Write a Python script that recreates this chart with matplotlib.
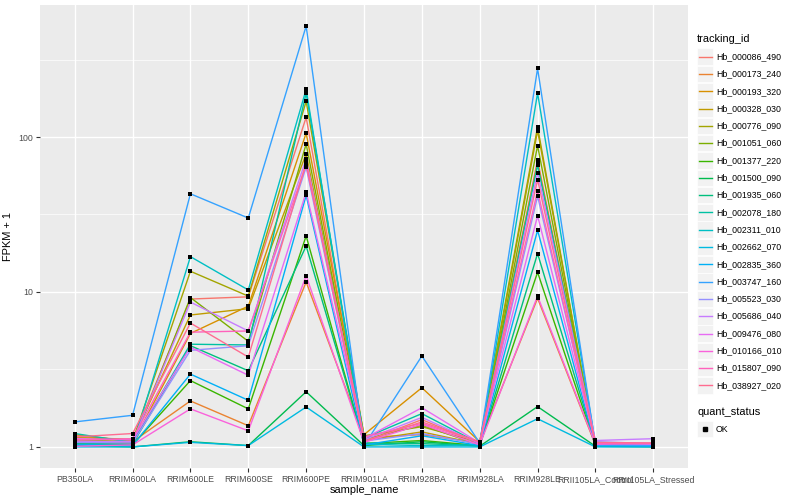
import numpy as np
import matplotlib.pyplot as plt
from matplotlib.patches import Rectangle
from matplotlib.lines import Line2D

plt.rcParams['font.family'] = ['Liberation Sans', 'DejaVu Sans']

samples = ["PB350LA", "RRIM600LA", "RRIM600LE", "RRIM600SE", "RRIM600PE",
           "RRIM901LA", "RRIM928BA", "RRIM928LA", "RRIM928LE",
           "RRII105LA_Control", "RRII105LA_Stressed"]

tracking_ids = ["Hb_000086_490", "Hb_000173_240", "Hb_000193_320", "Hb_000328_030",
                "Hb_000776_090", "Hb_001051_060", "Hb_001377_220", "Hb_001500_090",
                "Hb_001935_060", "Hb_002078_180", "Hb_002311_010", "Hb_002662_070",
                "Hb_002835_360", "Hb_003747_160", "Hb_005523_030", "Hb_005686_040",
                "Hb_009476_080", "Hb_010166_010", "Hb_015807_090", "Hb_038927_020"]

colors = ["#F8766D", "#EA8331", "#D89000", "#C09B00", "#A3A500", "#7CAE00",
          "#39B600", "#00BB4E", "#00BF7D", "#00C1A3", "#00BFC4", "#00BAE0",
          "#00B0F6", "#35A2FF", "#9590FF", "#C77CFF", "#E76BF3", "#FA62DB",
          "#FF62BC", "#FF6C90"]

# FPKM + 1, one row per tracking_id, one column per sample
fpkm = [
    [1.18, 1.10, 9.0, 9.3, 134, 1.08, 1.50, 1.05, 71, 1.04, 1.05],
    [1.20, 1.08, 1.98, 1.37, 11.6, 1.15, 1.20, 1.06, 9.1, 1.03, 1.04],
    [1.12, 1.06, 5.4, 8.1, 106, 1.20, 2.41, 1.08, 68, 1.05, 1.03],
    [1.15, 1.12, 7.1, 7.8, 78, 1.10, 1.25, 1.04, 110, 1.03, 1.02],
    [1.10, 1.09, 13.6, 9.4, 170, 1.18, 1.35, 1.07, 116, 1.02, 1.03],
    [1.08, 1.05, 9.2, 4.8, 90, 1.12, 1.38, 1.03, 88, 1.04, 1.02],
    [1.05, 1.03, 2.68, 1.76, 23, 1.05, 1.10, 1.02, 13.4, 1.02, 1.01],
    [1.02, 1.00, 1.08, 1.02, 2.27, 1.02, 1.08, 1.01, 1.82, 1.01, 1.00],
    [1.06, 1.04, 4.5, 3.1, 19.8, 1.06, 1.05, 1.02, 17.7, 1.03, 1.02],
    [1.22, 1.07, 4.6, 4.55, 192, 1.14, 1.64, 1.05, 66, 1.06, 1.04],
    [1.04, 1.02, 16.9, 10.3, 203, 1.04, 1.02, 1.03, 192, 1.05, 1.03],
    [1.00, 1.00, 1.07, 1.02, 1.81, 1.00, 1.00, 1.00, 1.52, 1.00, 1.00],
    [1.03, 1.02, 2.95, 2.0, 42, 1.03, 1.18, 1.02, 25, 1.02, 1.01],
    [1.45, 1.60, 43, 30, 520, 1.02, 3.86, 1.06, 277, 1.03, 1.02],
    [1.07, 1.06, 4.2, 4.5, 64, 1.09, 1.22, 1.04, 41.5, 1.08, 1.05],
    [1.09, 1.08, 8.6, 5.6, 72, 1.11, 1.55, 1.05, 59, 1.10, 1.13],
    [1.13, 1.11, 4.4, 2.9, 44, 1.13, 1.79, 1.06, 31, 1.06, 1.04],
    [1.01, 1.03, 1.76, 1.27, 12.7, 1.07, 1.40, 1.03, 9.4, 1.04, 1.05],
    [1.11, 1.13, 5.5, 5.6, 66, 1.16, 1.42, 1.07, 45, 1.05, 1.06],
    [1.16, 1.22, 6.3, 3.8, 68, 1.09, 1.45, 1.08, 53, 1.07, 1.06],
]

fig = plt.figure(figsize=(8, 5), dpi=100)
ax = fig.add_axes([0.05, 0.064, 0.81, 0.926])
ax.set_facecolor('#EBEBEB')
for s in ax.spines.values():
    s.set_visible(False)

x = np.arange(1, len(samples) + 1)
for vals, col in zip(fpkm, colors):
    ax.plot(x, vals, color=col, lw=1.0, zorder=3)
for vals in fpkm:
    ax.scatter(x, vals, marker='s', s=10, color='black', zorder=4, linewidths=0)

ax.set_yscale('log')
ax.set_ylim(0.731, 711)
ax.set_xlim(0.4, len(samples) + 0.6)
ax.set_yticks([1, 10, 100])
ax.set_yticklabels(['1', '10', '100'])
ax.set_yticks([10 ** 0.5, 10 ** 1.5, 10 ** 2.5], minor=True)
ax.yaxis.set_minor_formatter(plt.NullFormatter())
ax.set_xticks(x)
ax.set_xticklabels(samples)
ax.tick_params(axis='both', which='major', length=3, width=0.8, color='#333333',
               labelsize=6.3, labelcolor='#4D4D4D', pad=2)
ax.tick_params(axis='y', which='minor', length=0)
ax.grid(True, which='major', color='white', lw=1.0, zorder=0)
ax.grid(True, which='minor', axis='y', color='white', lw=0.5, zorder=0)
ax.set_axisbelow(True)
ax.set_xlabel('sample_name', fontsize=7.9, labelpad=1)
ax.set_ylabel('FPKM + 1', fontsize=7.9, labelpad=4)

# legends drawn by hand in pixel space
W, H = 800, 500
def px(xp, yp):
    return xp / W, 1 - yp / H

fig.text(*px(697, 39), 'tracking_id', fontsize=7.9, va='center', ha='left')
for i, (tid, col) in enumerate(zip(tracking_ids, colors)):
    yc = 56.7 + i * 17.3
    fig.patches.append(Rectangle(px(697, yc + 8.3), 16 / W, 16.6 / H,
                                 transform=fig.transFigure, facecolor='#F2F2F2',
                                 edgecolor='white', lw=0.5))
    fig.lines.append(Line2D([698.5 / W, 711.5 / W], [1 - yc / H] * 2,
                            transform=fig.transFigure, color=col, lw=1.0))
    fig.text(*px(716, yc), tid, fontsize=6.3, va='center', ha='left')

fig.text(*px(697, 412), 'quant_status', fontsize=7.9, va='center', ha='left')
fig.patches.append(Rectangle(px(697, 437.3), 16 / W, 16.6 / H,
                             transform=fig.transFigure, facecolor='#F2F2F2',
                             edgecolor='white', lw=0.5))
fig.lines.append(Line2D([705 / W], [1 - 429 / H], transform=fig.transFigure,
                        marker='s', markersize=2.8, color='black', lw=0))
fig.text(*px(716, 429), 'OK', fontsize=6.3, va='center', ha='left')

fig.savefig('out.png', dpi=100)
